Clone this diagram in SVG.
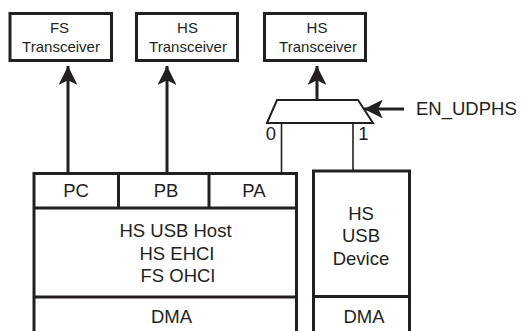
<svg xmlns="http://www.w3.org/2000/svg" width="522" height="331" viewBox="0 0 522 331">
<defs>
<style>
.box{fill:#fff;stroke:#231f20;stroke-width:3}
.t{font-family:"Liberation Sans",Arial,sans-serif;fill:#231f20;text-anchor:middle}
.s{font-size:15px}
.m{font-size:18.5px}
.thick{stroke:#231f20;stroke-width:3;fill:none}
.thin{stroke:#231f20;stroke-width:1.6;fill:none}
</style>
<marker id="ah" viewBox="0 0 10 10" refX="10" refY="5" markerWidth="6.3" markerHeight="6.3" markerUnits="strokeWidth" orient="auto">
<path d="M0,0 L10,5 L0,10 L2.5,5 Z" fill="#231f20"/>
</marker>
</defs>
<rect width="522" height="331" fill="#fff"/>

<g id="fs-transceiver">
<rect class="box" x="10" y="13.5" width="101.5" height="47"/>
<text class="t s" x="59.5" y="32.5">FS</text>
<text class="t s" x="61" y="52">Transceiver</text>
</g>
<g id="hs-transceiver-1">
<rect class="box" x="136.5" y="13.5" width="101" height="47"/>
<text class="t s" x="187.5" y="32.5">HS</text>
<text class="t s" x="188" y="52">Transceiver</text>
</g>
<g id="hs-transceiver-2">
<rect class="box" x="264.5" y="13.5" width="101" height="47"/>
<text class="t s" x="317" y="32.5">HS</text>
<text class="t s" x="318" y="52">Transceiver</text>
</g>

<g id="mux">
<polygon points="277,100 358,100 373,123 267,123" fill="#fff" stroke="#231f20" stroke-width="2" stroke-linejoin="miter"/>
<text class="t m" x="271" y="140">0</text>
<text class="t m" x="363.5" y="140">1</text>
</g>

<g id="en-udphs">
<text class="t m" x="416" y="115" style="text-anchor:start">EN_UDPHS</text>
</g>

<g id="host">
<rect class="box" x="34" y="173.5" width="262.5" height="180"/>
<line class="thick" x1="34" y1="208" x2="296.5" y2="208"/>
<line class="thick" x1="34" y1="297" x2="296.5" y2="297"/>
<line class="thick" x1="118.5" y1="173.5" x2="118.5" y2="208"/>
<line class="thick" x1="209" y1="173.5" x2="209" y2="208"/>
<text class="t m" x="76" y="197">PC</text>
<text class="t m" x="166" y="197">PB</text>
<text class="t m" x="254" y="197">PA</text>
<text class="t m" x="175.5" y="236.5">HS USB Host</text>
<text class="t m" x="177" y="259.5">HS EHCI</text>
<text class="t m" x="178" y="282">FS OHCI</text>
<text class="t m" x="171.5" y="323">DMA</text>
</g>

<g id="device">
<rect class="box" x="313.5" y="171" width="96" height="180"/>
<line class="thick" x1="313.5" y1="296.5" x2="409.5" y2="296.5"/>
<text class="t m" x="361" y="220">HS</text>
<text class="t m" x="361" y="242">USB</text>
<text class="t m" x="361" y="265">Device</text>
<text class="t m" x="364" y="323">DMA</text>
</g>

<g id="connectors">
<line class="thick" x1="68" y1="172" x2="68" y2="66" marker-end="url(#ah)"/>
<line class="thick" x1="167" y1="172" x2="167" y2="66" marker-end="url(#ah)"/>
<line class="thick" x1="317" y1="100" x2="317" y2="66" marker-end="url(#ah)"/>
<line class="thick" x1="404" y1="109" x2="364" y2="109" marker-end="url(#ah)"/>
<line class="thin" x1="281.5" y1="123" x2="281.5" y2="172"/>
<line class="thin" x1="353" y1="123" x2="353" y2="170"/>
</g>
</svg>
